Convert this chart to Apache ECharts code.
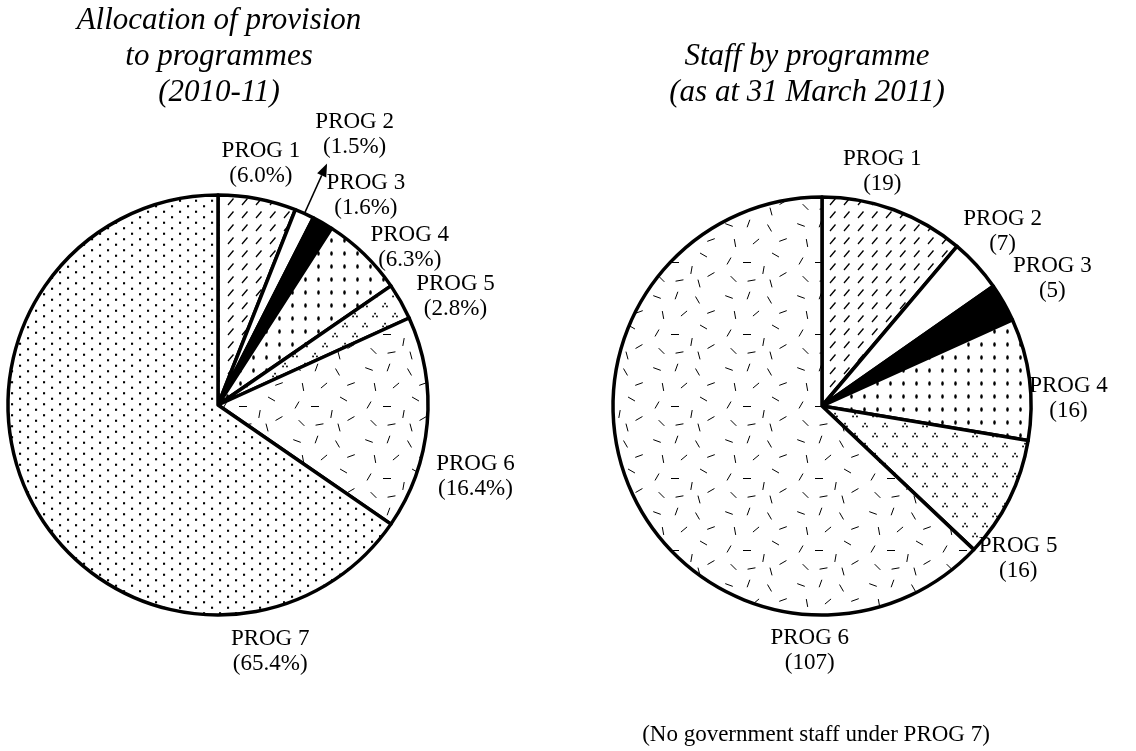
<!DOCTYPE html>
<html>
<head>
<meta charset="utf-8">
<title>Programme charts</title>
<script src="https://cdn.jsdelivr.net/npm/echarts@6/dist/echarts.min.js"></script>
</head>
<body style="margin:0;background:#fff">
<div id="main" style="width:1136px;height:751px;"></div>
<script>
// data
var provNames = ['PROG 1', 'PROG 2', 'PROG 3', 'PROG 4', 'PROG 5', 'PROG 6', 'PROG 7'];
var provShares = [6.0, 1.5, 1.6, 6.3, 2.8, 16.4, 65.4];
var staffNames = ['PROG 1', 'PROG 2', 'PROG 3', 'PROG 4', 'PROG 5', 'PROG 6'];
var staffCounts = [19, 7, 5, 16, 16, 107];

// label nudges from the default outside spot
var provShift = [[-43, -23], [1, -68], [-7, -17], [-7, 2], [0, 1], [-8, 52], [293, 143]];
var staffShift = [[-60, -27], [-27, -26], [-6, -18], [-17, 21], [-46, 54], [235, 157]];

var serif = 'Liberation Serif, Times New Roman, serif';
var leftCenter = [218, 405], leftR = 210;
var rightCenter = [822, 406], rightR = 209;

// hatch tiles
function tile(w, h, draw) {
    var c = document.createElement('canvas');
    c.width = w; c.height = h;
    var g = c.getContext('2d');
    g.fillStyle = '#fff';
    g.fillRect(0, 0, w, h);
    g.fillStyle = '#000';
    g.strokeStyle = '#000';
    draw(g);
    return { image: c, repeat: 'repeat' };
}
var slashFill = tile(14, 13, function (g) {
    g.lineWidth = 1.3;
    g.beginPath(); g.moveTo(4, 10); g.lineTo(9.5, 3.5); g.stroke();
});
var ovalFill = tile(13, 13, function (g) {
    g.beginPath(); g.ellipse(6.5, 6.5, 1.3, 2.3, 0, 0, Math.PI * 2); g.fill();
});
var clusterFill = tile(20, 20, function (g) {
    [[5, 5], [15, 15]].forEach(function (p) {
        g.fillRect(p[0] - 0.8, p[1] - 2.2, 1.7, 1.7);
        g.fillRect(p[0] - 2.8, p[1] + 0.6, 1.7, 1.7);
        g.fillRect(p[0] + 1.1, p[1] + 0.6, 1.7, 1.7);
    });
});
var dashes = [[6, 6, 20], [19, 5, 110], [33, 8, 60], [42, 16, 160], [10, 18, 80], [24, 17, 140],
    [37, 26, 30], [6, 30, 120], [18, 31, 0], [29, 36, 100], [42, 39, 150], [9, 42, 45],
    [21, 43, 170], [34, 45, 75]];
var dashFill = tile(72, 72, function (g) {
    g.lineWidth = 1;
    dashes.forEach(function (d) {
        var a = d[2] * Math.PI / 180, hx = Math.cos(a) * 4, hy = Math.sin(a) * 4;
        var x = d[0] * 1.5, y = d[1] * 1.5;
        g.beginPath(); g.moveTo(x - hx, y - hy); g.lineTo(x + hx, y + hy); g.stroke();
    });
});
var dotFill = tile(16, 11, function (g) {
    g.fillRect(3, 1.7, 2.1, 2.1);
    g.fillRect(11, 7.2, 2.1, 2.1);
});

var provFills = [slashFill, '#fff', '#000', ovalFill, clusterFill, dashFill, dotFill];
var staffFills = [slashFill, '#fff', '#000', ovalFill, clusterFill, dashFill];

function pieSeries(names, values, fills, center, radius, fmt, shift) {
    return {
        type: 'pie',
        center: center,
        radius: radius,
        startAngle: 90,
        clockwise: true,
        avoidLabelOverlap: false,
        silent: true,
        emphasis: { disabled: true },
        itemStyle: { borderColor: '#000', borderWidth: 3.5 },
        label: {
            position: 'outside',
            formatter: fmt,
            rich: { a: { fontFamily: serif, fontSize: 23, lineHeight: 25, color: '#000', align: 'center' } }
        },
        labelLine: { show: false, length: 12, length2: 0 },
        labelLayout: function (p) {
            var s = shift[p.dataIndex];
            return { dx: s[0], dy: s[1] };
        },
        data: names.map(function (n, i) {
            return { name: n, value: values[i], itemStyle: { color: fills[i] } };
        })
    };
}

// arrow to PROG 2 label, from the slice's mid angle
var total = provShares.reduce(function (a, b) { return a + b; }, 0);
var before = provShares[0];
var mid = (before + provShares[1] / 2) / total * 2 * Math.PI;
var ux = Math.sin(mid), uy = -Math.cos(mid);
var p0 = [leftCenter[0] + ux * leftR, leftCenter[1] + uy * leftR];
var tip = [leftCenter[0] + ux * (leftR + 55), leftCenter[1] + uy * (leftR + 55)];
var back = [tip[0] - ux * 13, tip[1] - uy * 13];

var myChart = echarts.init(document.getElementById('main'));
myChart.setOption({
    animation: false,
    backgroundColor: '#fff',
    title: [
        {
            text: 'Allocation of provision\nto programmes\n(2010-11)',
            left: 219, top: 3, padding: 0, textAlign: 'center',
            textStyle: { fontFamily: serif, fontStyle: 'italic', fontWeight: 'normal', fontSize: 31, lineHeight: 36, color: '#000' }
        },
        {
            text: 'Staff by programme\n(as at 31 March 2011)',
            left: 807, top: 39, padding: 0, textAlign: 'center',
            textStyle: { fontFamily: serif, fontStyle: 'italic', fontWeight: 'normal', fontSize: 31, lineHeight: 36, color: '#000' }
        },
        {
            text: '(No government staff under PROG 7)',
            left: 816, top: 723, padding: 0, textAlign: 'center',
            textStyle: { fontFamily: serif, fontWeight: 'normal', fontSize: 23, color: '#000' }
        }
    ],
    series: [
        pieSeries(provNames, provShares, provFills, leftCenter, leftR, function (p) {
            return '{a|' + p.name + '}\n{a|(' + p.value.toFixed(1) + '%)}';
        }, provShift),
        pieSeries(staffNames, staffCounts, staffFills, rightCenter, rightR, function (p) {
            return '{a|' + p.name + '}\n{a|(' + p.value + ')}';
        }, staffShift)
    ],
    graphic: [
        {
            type: 'line', z: 100,
            shape: { x1: p0[0], y1: p0[1], x2: back[0], y2: back[1] },
            style: { stroke: '#000', lineWidth: 1.5 }
        },
        {
            type: 'polygon', z: 100,
            shape: { points: [tip, [back[0] - uy * 5, back[1] + ux * 5], [back[0] + uy * 5, back[1] - ux * 5]] },
            style: { fill: '#000' }
        }
    ]
});
</script>
</body>
</html>
